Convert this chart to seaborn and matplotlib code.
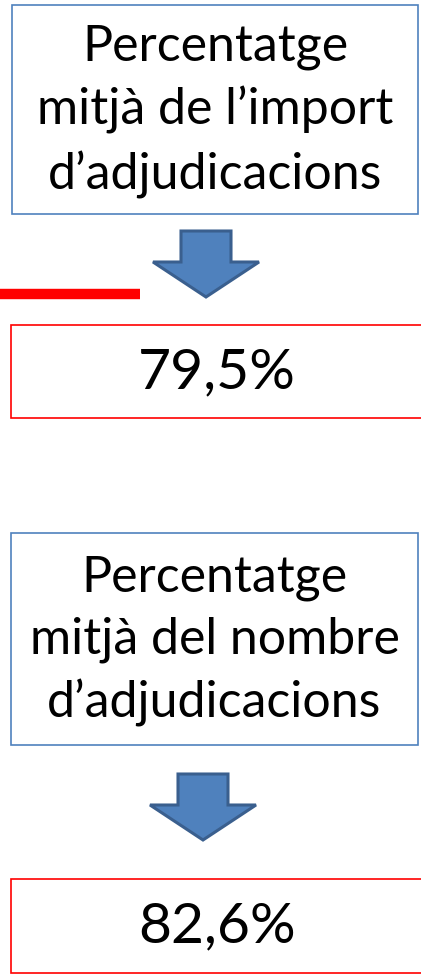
import matplotlib
matplotlib.use("Agg")
import matplotlib.pyplot as plt
import seaborn as sns
from matplotlib.patches import Rectangle, Polygon

# Dades
titols = ["Percentatge\nmitjà de l\u2019import\nd\u2019adjudicacions",
          "Percentatge\nmitjà del nombre\nd\u2019adjudicacions"]
valors = [79.5, 82.6]

sns.set_theme(style="white")
plt.rcParams['font.family'] = ['Lato', 'DejaVu Sans']

BLAU_VORA = "#4F81BD"
BLAU_FLETXA = "#4F81BD"
BLAU_FLETXA_VORA = "#3A5F8E"
VERMELL = "#FF0000"

fig = plt.figure(figsize=(4.21, 9.75), dpi=100)
ax = fig.add_axes([0, 0, 1, 1])
ax.set_xlim(0, 421)
ax.set_ylim(975, 0)
ax.axis("off")

# posicions de cada bloc (en píxels)
caixes_blaves = [(12, 5, 406, 209), (11, 533, 407, 212)]
fletxes = [(206, 231), (203, 774)]
caixes_vermelles = [(11, 325, 420, 93), (11, 879, 420, 94)]


def fletxa(ax, cx, top):
    # fletxa cap avall tipus PowerPoint
    w_cos, w_cap, h_cos, h_cap = 25, 53, 31, 35
    pts = [(cx - w_cos, top), (cx + w_cos, top), (cx + w_cos, top + h_cos),
           (cx + w_cap, top + h_cos), (cx, top + h_cos + h_cap),
           (cx - w_cap, top + h_cos), (cx - w_cos, top + h_cos)]
    ax.add_patch(Polygon(pts, closed=True, facecolor=BLAU_FLETXA,
                         edgecolor=BLAU_FLETXA_VORA, linewidth=2.2, joinstyle="miter"))


for i, (titol, valor) in enumerate(zip(titols, valors)):
    x, y, w, h = caixes_blaves[i]
    ax.add_patch(Rectangle((x, y), w, h, facecolor="white", edgecolor=BLAU_VORA, linewidth=1.2))
    ax.text(x + w / 2, y + h / 2 + 2, titol, ha="center", va="center",
            fontsize=36, linespacing=1.42, color="black")

    fletxa(ax, *fletxes[i])

    x, y, w, h = caixes_vermelles[i]
    ax.add_patch(Rectangle((x, y), w, h, facecolor="white", edgecolor=VERMELL, linewidth=1.2))
    etiqueta = f"{valor:.1f}".replace(".", ",") + "%"
    ax.text(217, y + h / 2 + 1, etiqueta, ha="center", va="center",
            fontsize=41, color="black")

# línia vermella
sns.lineplot(x=[0, 140], y=[294, 294], color=VERMELL, linewidth=7.5, ax=ax,
             solid_capstyle="butt")

fig.savefig("out.png", dpi=100)
